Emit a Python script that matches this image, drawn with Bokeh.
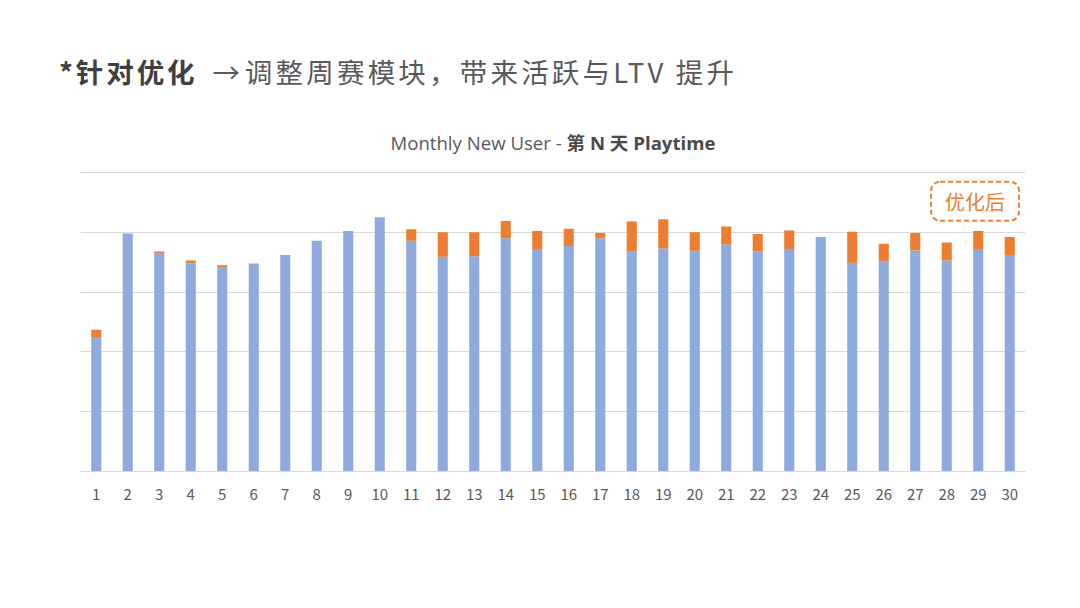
from bokeh.plotting import figure
from bokeh.models import Div, Label, FactorRange, FixedTicker, ColumnDataSource
from bokeh.layouts import column
from bokeh.embed import file_html
from bokeh.resources import INLINE

days = [str(i) for i in range(1, 31)]
base = [22.5, 39.8, 36.4, 34.8, 34.2, 34.8, 36.2, 38.6, 40.2, 42.5,
        38.6, 35.9, 36.0, 39.0, 37.2, 37.7, 39.0, 36.8, 37.3, 36.9,
        37.95, 36.8, 37.2, 39.2, 34.9, 35.1, 36.95, 35.3, 37.2, 36.2]
uplift = [1.2, 0.0, 0.4, 0.5, 0.3, 0.0, 0.0, 0.0, 0.0, 0.0,
          1.9, 4.1, 4.0, 2.9, 3.0, 2.9, 0.9, 5.0, 4.9, 3.1,
          3.0, 2.9, 3.1, 0.0, 5.2, 3.0, 2.95, 3.0, 3.0, 3.0]
grid_ticks = [0, 10, 20, 30, 40, 50]

title_bold = "*针对优化"
title_arrow = "→"
title_rest = "调整周赛模块，带来活跃与LTV 提升"
sub_normal = "Monthly New User - "
sub_bold = "第 N 天 Playtime"
callout = "优化后"

header = Div(width=1064, height=155, text=f"""
<div style="position:relative;width:1064px;height:155px;">
  <div style="position:absolute;left:54px;top:50px;line-height:32px;font-size:27.5px;
              font-family:'Noto Sans CJK SC';letter-spacing:2.9px;white-space:nowrap;"><span style="font-weight:bold;color:#3f3f3f;">{title_bold}</span><span style="color:#595959;margin-left:15px;">{title_arrow}</span><span style="color:#595959;margin-left:2px;letter-spacing:3.2px;">{title_rest}</span></div>
  <div style="position:absolute;left:48px;width:1000px;top:127px;line-height:22px;font-size:18.6px;
              text-align:center;font-family:'Open Sans','Noto Sans CJK SC';color:#595959;white-space:nowrap;"><span>{sub_normal}</span><span style="font-weight:bold;color:#4a4a4a;">{sub_bold}</span></div>
</div>
""")

src = ColumnDataSource(dict(day=days, base=base, uplift=uplift))

p = figure(x_range=FactorRange(*days), y_range=(0, 50.5), width=1064, height=435,
           output_backend="svg", toolbar_location=None,
           min_border_left=80, min_border_right=39, min_border_top=4, min_border_bottom=129)
p.vbar_stack(["base", "uplift"], x="day", width=0.32, source=src,
             color=["#8FAADC", "#ED7D31"], line_color=None)

p.outline_line_color = None
p.background_fill_color = "white"
p.border_fill_color = "white"
p.yaxis.visible = False
p.xgrid.grid_line_color = None
p.ygrid.ticker = FixedTicker(ticks=grid_ticks)
p.ygrid.grid_line_color = "#d9d9d9"
p.ygrid.grid_line_width = 1
p.xaxis.axis_line_color = "#d9d9d9"
p.xaxis.major_tick_line_color = None
p.xaxis.minor_tick_line_color = None
p.xaxis.major_label_text_font = "Noto Sans CJK SC"
p.xaxis.major_label_text_font_size = "15px"
p.xaxis.major_label_text_color = "#595959"
p.xaxis.major_label_standoff = 11

lab = Label(x=28.4, y=45.2, text=callout, text_align="center", text_baseline="middle",
            text_font="Noto Sans CJK SC", text_font_size="20px", text_color="#ED7D31",
            border_line_color="#ED7D31", border_line_dash="5 3", border_line_width=2,
            border_radius=9, padding=dict(left=14, right=14, top=5, bottom=5),
            background_fill_color="white")
p.add_layout(lab)

layout = column(header, p, spacing=0)
open("out.html", "w").write(file_html(layout, INLINE))
